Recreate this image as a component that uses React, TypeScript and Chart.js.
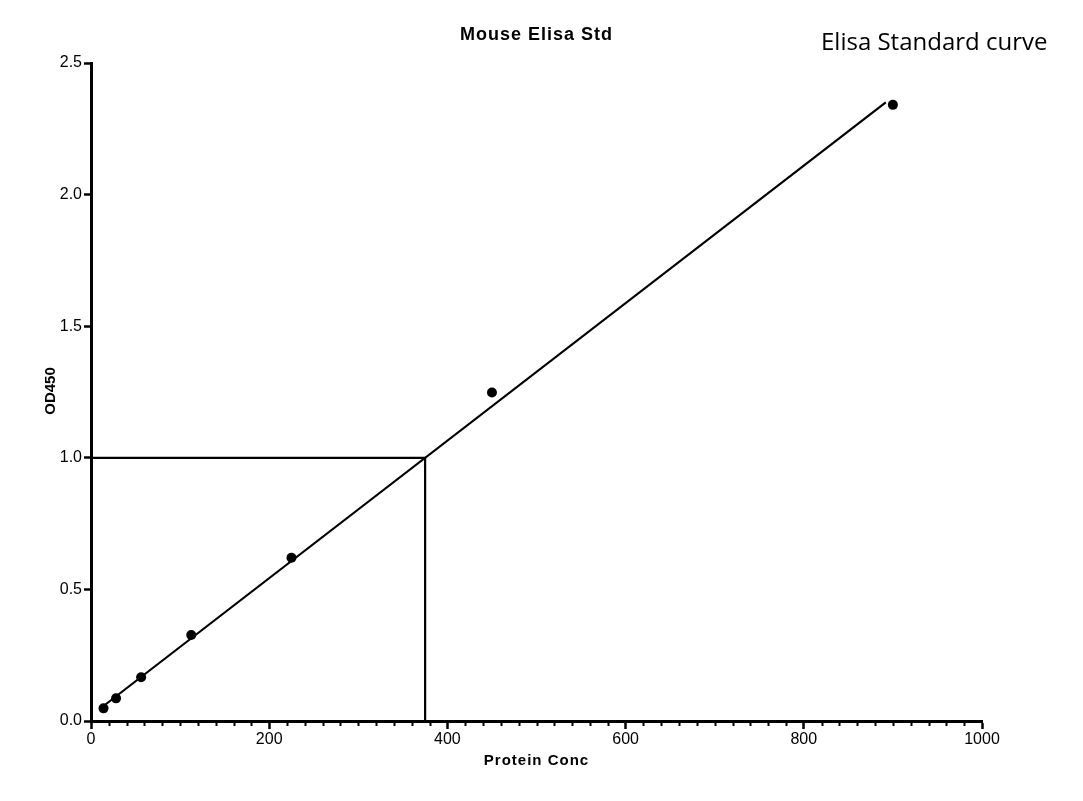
import { useEffect, useRef } from "react";
import { Chart, registerables } from "chart.js";

Chart.register(...registerables);

// standards (serial dilution) and measured OD450
const STD_CONC = [14.0625, 28.125, 56.25, 112.5, 225, 450, 900];
const STD_OD = [0.048, 0.086, 0.166, 0.327, 0.62, 1.248, 2.341];

// linear fit as drawn (end points)
const FIT_X = [14.06, 892];
const FIT_Y = [0.057, 2.35];

// read-off at OD = 1.0
const READ_X = [0, 375, 375];
const READ_Y = [1, 1, 0];

const X_TICKS = [0, 200, 400, 600, 800, 1000];
const X_MINOR_STEP = 20;
const Y_TICKS = [0, 0.5, 1.0, 1.5, 2.0, 2.5];

const TITLE = "Mouse Elisa Std";
const X_TITLE = "Protein Conc";
const Y_TITLE = "OD450";
const NOTE = "Elisa Standard curve";

const SANS = "'Liberation Sans', Arial, sans-serif";

const zip = (xs: number[], ys: number[]) => xs.map((x, i) => ({ x, y: ys[i] }));

const textPlugin = {
  id: "texts",
  afterDraw(chart: Chart) {
    const { ctx, chartArea, scales } = chart;
    const xs = scales.x;
    ctx.save();
    ctx.fillStyle = "#000";
    ctx.strokeStyle = "#000";

    // minor ticks on the x axis
    ctx.lineWidth = 2;
    ctx.beginPath();
    for (let v = X_TICKS[0]; v <= X_TICKS[X_TICKS.length - 1]; v += X_MINOR_STEP) {
      if (X_TICKS.includes(v)) continue;
      const px = Math.round(xs.getPixelForValue(v)) + 0.5;
      ctx.moveTo(px, chartArea.bottom);
      ctx.lineTo(px, chartArea.bottom + 5);
    }
    ctx.stroke();

    const cx = (chartArea.left + chartArea.right) / 2;
    ctx.textAlign = "center";
    ctx.textBaseline = "alphabetic";

    ctx.font = `bold 18px ${SANS}`;
    (ctx as any).letterSpacing = "1px";
    ctx.fillText(TITLE, cx, 40);

    ctx.font = `bold 15px ${SANS}`;
    ctx.fillText(X_TITLE, cx, 765);

    (ctx as any).letterSpacing = "0px";
    ctx.translate(55, 391);
    ctx.rotate(-Math.PI / 2);
    ctx.fillText(Y_TITLE, 0, 0);
    ctx.setTransform(1, 0, 0, 1, 0, 0);

    ctx.font = "24px 'Open Sans', 'Noto Sans', sans-serif";
    ctx.textAlign = "left";
    ctx.fillText(NOTE, 821, 50);
    ctx.restore();
  },
};

export default function App() {
  const ref = useRef<HTMLCanvasElement | null>(null);

  useEffect(() => {
    document.body.style.margin = "0";
    if (!ref.current) return;
    const chart = new Chart(ref.current, {
      type: "scatter",
      data: {
        datasets: [
          {
            data: zip(READ_X, READ_Y),
            showLine: true,
            borderColor: "#000",
            borderWidth: 2.2,
            pointRadius: 0,
          },
          {
            data: zip(FIT_X, FIT_Y),
            showLine: true,
            borderColor: "#000",
            borderWidth: 2.2,
            pointRadius: 0,
          },
          {
            data: zip(STD_CONC, STD_OD),
            backgroundColor: "#000",
            borderWidth: 0,
            pointRadius: 5,
          },
        ],
      },
      options: {
        responsive: false,
        animation: false,
        devicePixelRatio: 1,
        layout: { padding: { top: 63, right: 101, bottom: 0, left: 0 } },
        plugins: { legend: { display: false }, tooltip: { enabled: false } },
        scales: {
          x: {
            type: "linear",
            min: 0,
            max: 1000,
            afterFit: (s: any) => {
              s.height = 80;
            },
            afterBuildTicks: (s: any) => {
              s.ticks = X_TICKS.map((value) => ({ value }));
            },
            border: { color: "#000", width: 3 },
            grid: { drawOnChartArea: false, tickLength: 8, tickWidth: 2.5, tickColor: "#000" },
            ticks: {
              color: "#000",
              font: { family: SANS, size: 16 },
              padding: 1,
              maxRotation: 0,
              callback: (v: any) => String(v),
            },
          },
          y: {
            type: "linear",
            min: 0,
            max: 2.5,
            afterFit: (s: any) => {
              s.width = 91;
            },
            afterBuildTicks: (s: any) => {
              s.ticks = Y_TICKS.map((value) => ({ value }));
            },
            border: { color: "#000", width: 3 },
            grid: { drawOnChartArea: false, tickLength: 7, tickWidth: 2.5, tickColor: "#000" },
            ticks: {
              color: "#000",
              font: { family: SANS, size: 16 },
              padding: 2,
              callback: (v: any) => Number(v).toFixed(1),
            },
          },
        },
      },
      plugins: [textPlugin],
    });
    return () => chart.destroy();
  }, []);

  return (
    <div style={{ position: "absolute", left: 0, top: 0, width: 1083, height: 801, background: "#fff" }}>
      <canvas ref={ref} width={1083} height={801} aria-label="Mouse Elisa Std" />
    </div>
  );
}
